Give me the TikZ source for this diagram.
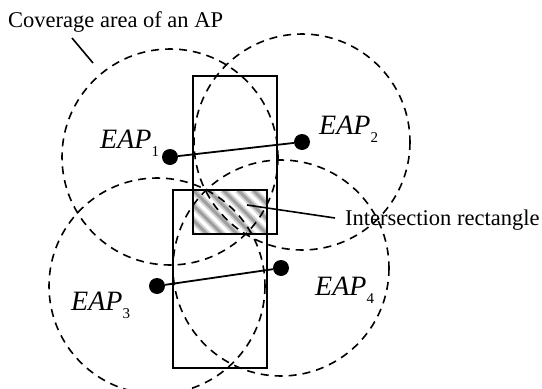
\documentclass[tikz,border=0pt]{standalone}
\usepackage{fontspec}
\setmainfont{Liberation Serif}
\usetikzlibrary{positioning}

\tikzset{
  apcover/.style={dashed,dash pattern=on 8pt off 6pt,line width=1.6pt},
  aprect/.style={line width=1.8pt},
  apdot/.style={circle,fill=black,inner sep=0pt,minimum size=16pt},
  eaplabel/.style={anchor=base west,inner sep=0pt,font=\fontsize{28}{30}\selectfont\itshape},
  notetext/.style={anchor=base west,inner sep=0pt,font=\fontsize{22.5}{24}\selectfont},
  pointer/.style={line width=1.6pt}
}
\newcommand{\eapname}[1]{EAP\raisebox{-8pt}{\fontsize{15}{15}\selectfont\upshape #1}}

\begin{document}
\begin{tikzpicture}[x=1pt,y=-1pt]
    \useasboundingbox (0,0) rectangle (542,389);

    % Access points
    \node[apdot] (ap1) at (170,157) {};
    \node[apdot] (ap2) at (302,142) {};
    \node[apdot] (ap3) at (157,286) {};
    \node[apdot] (ap4) at (281,268) {};

    % Hatched intersection
    \begin{scope}
        \clip (193,190) rectangle (267,234);
        \foreach \i in {-75,-60,...,90}{
            \draw[gray!35,line width=7pt] (193+\i,190) -- ++(50,50);
            \draw[gray!75,line width=3pt] (193+\i,190) -- ++(50,50);
        }
    \end{scope}

    % Rectangles
    \draw[aprect] (193,76) rectangle (277,234);
    \draw[aprect] (173,190) rectangle (267,368);

    % Coverage areas
    \foreach \ap in {ap1,ap2,ap3,ap4}
        \draw[apcover] (\ap.center) circle (108);

    % Links
    \draw[aprect] (ap1) -- (ap2);
    \draw[aprect] (ap3) -- (ap4);

    % Labels
    \node[eaplabel] (l1) at (100,148) {\eapname{1}};
    \node[eaplabel] (l2) at (319,134) {\eapname{2}};
    \node[eaplabel] (l3) at (71,310) {\eapname{3}};
    \node[eaplabel] (l4) at (315,295) {\eapname{4}};

    % Notes
    \node[notetext] (cov) at (8,27) {Coverage area of an AP};
    \coordinate (covstart) at (72,38);
    \coordinate (covend) at (93,63);
    \draw[pointer] (covstart) -- (covend);
    \node[notetext] (isec) at (345,225) {Intersection rectangle};
    \coordinate (isecstart) at (335,218);
    \coordinate (isecend) at (247,205);
    \draw[pointer] (isecstart) -- (isecend);
\end{tikzpicture}
\end{document}
